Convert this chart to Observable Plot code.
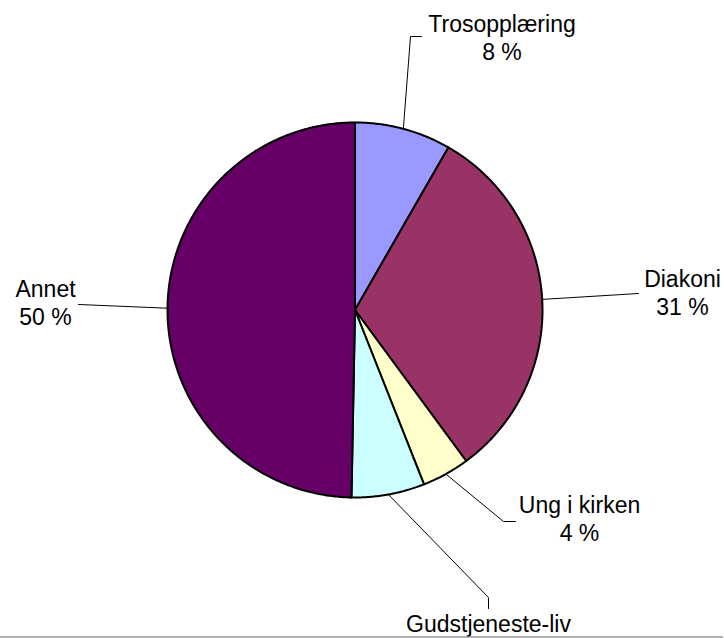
<!DOCTYPE html>
<html><head><meta charset="utf-8">
<script src="https://cdn.jsdelivr.net/npm/d3@7"></script>
<script src="https://cdn.jsdelivr.net/npm/@observablehq/plot@0.6"></script>
<style>body{margin:0;background:#fff}svg{display:block}</style>
</head><body><div id="chart"></div>
<script>
// ---- data ----
const categories = ["Trosopplæring", "Diakoni", "Ung i kirken", "Gudstjeneste-liv", "Annet"];
const values = [8.3, 31.6, 4.1, 6.3, 49.7];
const pctLabels = ["8 %", "31 %", "4 %", "6 %", "50 %"];
const colors = ["#9999FF", "#993366", "#FFFFCC", "#CCFFFF", "#660066"];

// ---- layout ----
const W = 724, H = 638;
const cx = 354.5, cy = 309.5, R = 187.5;
const fontSize = 23, lineGap = 28;
const labelLayout = [
  {x: 501.5, y: 32, leader: [[410, 36], [421, 36]]},
  {x: 682, y: 287, leader: [[638, 293]]},
  {x: 579, y: 513, leader: [[503, 521], [515, 521]]},
  {x: 488, y: 632, leader: [[488, 597], [488, 608]]},
  {x: 45, y: 297, leader: [[78, 304]]}
];

const arcs = d3.pie().sort(null).value(d => d)(values);
const pt = (a, r) => [cx + r * Math.sin(a), cy - r * Math.cos(a)];

const sliceMarks = arcs.map((a, i) => {
  const pts = [[cx, cy]];
  const n = Math.max(2, Math.ceil((a.endAngle - a.startAngle) / (Math.PI / 360)));
  for (let k = 0; k <= n; k++) {
    pts.push(pt(a.startAngle + (a.endAngle - a.startAngle) * k / n, R));
  }
  return Plot.line(pts, {x: d => d[0], y: d => d[1], fill: colors[i], stroke: "black",
    strokeWidth: 2, strokeLinejoin: "round", curve: "linear-closed"});
});

const leaderMarks = arcs.map((a, i) => {
  const mid = (a.startAngle + a.endAngle) / 2;
  const pts = [pt(mid, R), ...labelLayout[i].leader];
  return Plot.line(pts, {x: d => d[0], y: d => d[1], stroke: "black", strokeWidth: 1});
});

const labels = categories.map((c, i) => ({name: c, pct: pctLabels[i], x: labelLayout[i].x, y: labelLayout[i].y}));
// second lines that would fall beyond the picture's bottom edge are not drawn (as in the original)
const pctShown = labels.filter(d => d.y + lineGap < H);
const font = "'Liberation Sans', Arial, Helvetica, sans-serif";

const chart = Plot.plot({
  width: W, height: H,
  margin: 0,
  x: {type: "identity", axis: null},
  y: {type: "identity", axis: null},
  style: {background: "#fff", fontFamily: font, overflow: "hidden"},
  marks: [
    ...sliceMarks,
    ...leaderMarks,
    Plot.text(labels, {x: "x", y: "y", text: "name", fontSize, fill: "black", textAnchor: "middle", dy: -8, fontFamily: font}),
    Plot.text(pctShown, {x: "x", y: d => d.y + lineGap, text: "pct", fontSize, fill: "black", textAnchor: "middle", dy: -8, fontFamily: font}),
    Plot.ruleY([636.5], {x1: 0, x2: 723, stroke: "#999", strokeWidth: 1.5})
  ]
});
document.getElementById("chart").append(chart);
</script>
</body></html>
